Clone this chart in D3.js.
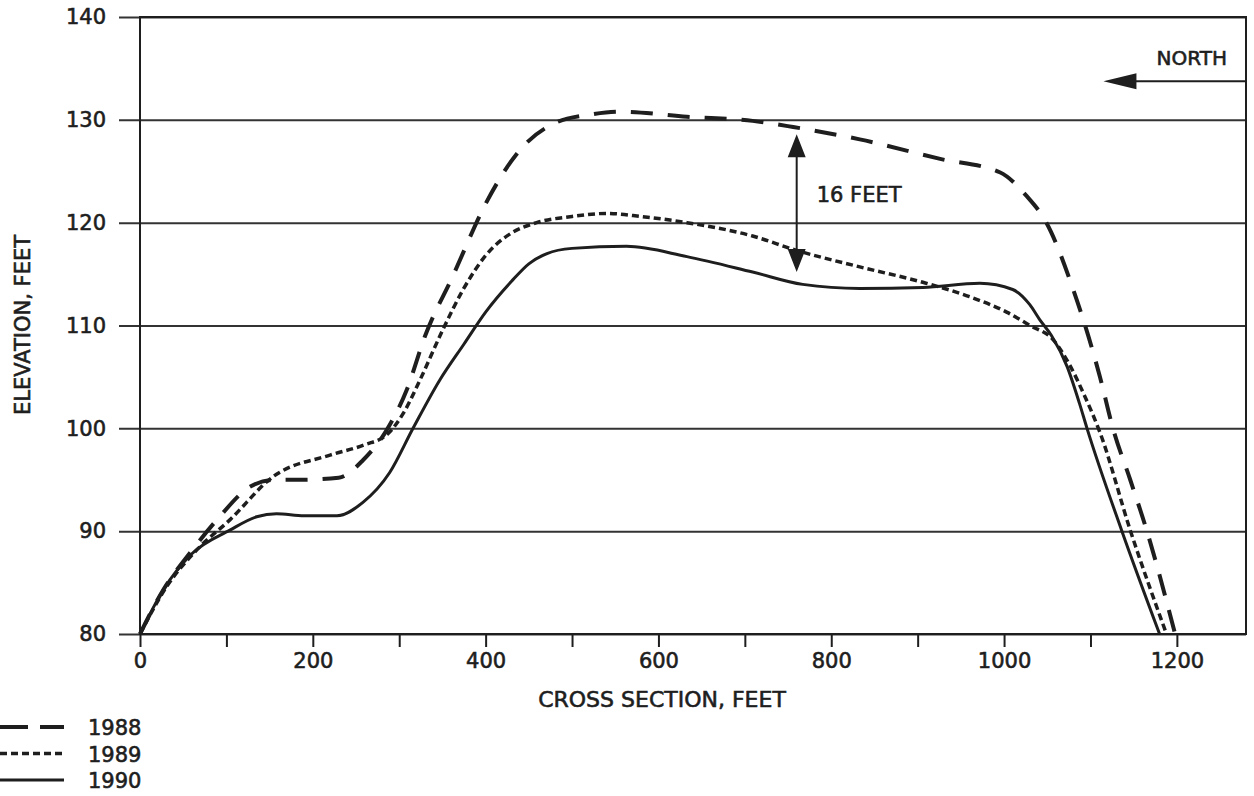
<!DOCTYPE html>
<html>
<head>
<meta charset="utf-8">
<script src="https://cdn.jsdelivr.net/npm/d3@7"></script>
<style>
    body { margin: 0; background: #fff; }
    svg text { font-family: "DejaVu Sans", sans-serif; fill: #1e1e1e; stroke: #1e1e1e; stroke-width: 0.6px; }
</style>
</head>
<body>
<div class="canvas"></div>
<script>
// cross section distance (feet) and elevation (feet) per survey year
const dist1988 = [0, 27, 58, 89, 127, 155, 185, 230, 258, 286, 309, 330, 362, 401, 440, 478, 520, 555, 633, 709, 756, 833, 926, 995, 1026, 1049, 1080, 1111, 1126, 1146, 1165, 1198];
const elev1988 = [80, 84.3, 87.9, 91.1, 94.3, 95.0, 95.0, 95.2, 96.9, 99.9, 103.8, 109, 114.8, 122, 127.1, 129.6, 130.5, 130.8, 130.3, 129.9, 129.3, 128.1, 126.2, 124.9, 122.6, 120, 113.5, 105, 100, 95, 90.1, 80];

const dist1989 = [0, 30, 66, 104, 154, 220, 260, 286, 305, 324, 350, 374, 400, 430, 459, 500, 540, 580, 633, 709, 760, 833, 906, 960, 1003, 1030, 1057, 1075, 1093, 1111, 1146, 1188];
const elev1989 = [80, 84.5, 88.2, 91.1, 95.3, 97.4, 98.4, 99.4, 101.5, 104.7, 109.5, 113.5, 116.8, 119, 120.0, 120.6, 120.9, 120.6, 120, 118.7, 117.3, 115.7, 114.2, 112.8, 111.3, 110, 108.6, 106.3, 103.2, 99.6, 90.1, 80];

const dist1990 = [0, 27, 60, 104, 135, 158, 190, 228, 258, 289, 316, 347, 375, 400, 430, 450, 471, 500, 563, 633, 709, 767, 833, 906, 972, 1010, 1030, 1041, 1055, 1073, 1087, 1096, 1136, 1180];
const elev1990 = [80, 84.3, 87.8, 90.1, 91.4, 91.7, 91.5, 91.5, 92.8, 95.7, 100, 104.7, 108.2, 111.3, 114.3, 116.0, 117.0, 117.5, 117.7, 116.7, 115.2, 114, 113.6, 113.7, 114.1, 113.5, 112, 110.6, 109.0, 106.0, 102.5, 100, 90.1, 80];

const years = ['1988', '1989', '1990'];
const xTicks = [0, 100, 200, 300, 400, 500, 600, 700, 800, 900, 1000, 1100, 1200];
const yTicks = [80, 90, 100, 110, 120, 130, 140];

// 16 feet marker and north arrow (data units)
const gapMarker = { x: 760, top: 128.6, bottom: 115.2, label: '16 FEET' };
const north = { label: 'NORTH', tipX: 1115, y: 133.75 };

const width = 1254, height = 796;
const padL = 140, padR = 1246, padT = 17, padB = 634;

const svg = d3.select('.canvas')
    .append('svg')
    .attr('width', width)
    .attr('height', height)
    ;

const xScale = d3.scaleLinear().domain([0, 1280]).range([padL, padR]);
const yScale = d3.scaleLinear().domain([80, 140]).range([padB, padT]);

const ink = '#1e1e1e';

// y axis with grid lines running across the plot
svg.append('g')
    .attr('transform', `translate(${padL - 21}, 0)`)
    .call(d3.axisLeft(yScale).tickValues(yTicks).tickSize(-(padR - padL + 21)).tickPadding(13))
    .call(g => g.select('.domain').remove())
    .call(g => g.selectAll('line').attr('stroke', '#333').attr('stroke-width', 2))
    .call(g => g.selectAll('text').attr('font-size', 21))
    ;

// x axis
svg.append('g')
    .attr('transform', `translate(0, ${padB})`)
    .call(d3.axisBottom(xScale).tickValues(xTicks).tickSize(13).tickPadding(6)
        .tickFormat(d => d % 200 === 0 ? d : ''))
    .call(g => g.select('.domain').remove())
    .call(g => g.selectAll('line').attr('stroke', ink).attr('stroke-width', 2))
    .call(g => g.selectAll('text').attr('font-size', 21))
    ;

// frame
svg.append('rect')
    .attr('x', padL)
    .attr('y', padT)
    .attr('width', padR - padL)
    .attr('height', padB - padT)
    .attr('fill', 'none')
    .attr('stroke', ink)
    .attr('stroke-width', 2)
    ;

// profiles
const styles = {
    '1988': { dash: '22,15', w: 4 },
    '1989': { dash: '7,4', w: 3.5 },
    '1990': { dash: null, w: 3 }
};
const series = [
    { year: '1988', pts: dist1988.map((d, i) => [d, elev1988[i]]) },
    { year: '1989', pts: dist1989.map((d, i) => [d, elev1989[i]]) },
    { year: '1990', pts: dist1990.map((d, i) => [d, elev1990[i]]) }
];

const line = d3.line()
    .x(d => xScale(d[0]))
    .y(d => yScale(d[1]))
    .curve(d3.curveMonotoneX);

svg.selectAll('.profile')
    .data(series)
    .enter()
    .append('path')
    .attr('class', 'profile')
    .attr('d', d => line(d.pts))
    .attr('fill', 'none')
    .attr('stroke', ink)
    .attr('stroke-width', d => styles[d.year].w)
    .attr('stroke-dasharray', d => styles[d.year].dash)
    ;

//16 feet double arrow
const gx = xScale(gapMarker.x), gTop = yScale(gapMarker.top), gBot = yScale(gapMarker.bottom);
svg.append('line')
    .attr('x1', gx).attr('x2', gx)
    .attr('y1', gTop + 10).attr('y2', gBot - 10)
    .attr('stroke', ink)
    .attr('stroke-width', 2)
    ;
svg.append('path')
    .attr('d', `M${gx},${gTop} L${gx - 9},${gTop + 23} L${gx + 9},${gTop + 23} Z
                M${gx},${gBot} L${gx - 9},${gBot - 23} L${gx + 9},${gBot - 23} Z`)
    .attr('fill', ink)
    ;
svg.append('text')
    .attr('x', gx + 20)
    .attr('y', 202)
    .attr('font-size', 21)
    .text(gapMarker.label)
    ;

//north arrow
const ny = yScale(north.y), nx = xScale(north.tipX);
svg.append('line')
    .attr('x1', nx + 20).attr('x2', padR)
    .attr('y1', ny).attr('y2', ny)
    .attr('stroke', ink)
    .attr('stroke-width', 2)
    ;
svg.append('path')
    .attr('d', `M${nx},${ny} L${nx + 33},${ny - 8} L${nx + 33},${ny + 8} Z`)
    .attr('fill', ink)
    ;
svg.append('text')
    .attr('x', 1227)
    .attr('y', 65)
    .attr('text-anchor', 'end')
    .attr('font-size', 20)
    .text(north.label)
    ;

// axis titles
svg.append('text')
    .attr('x', 662)
    .attr('y', 707)
    .attr('text-anchor', 'middle')
    .attr('font-size', 22)
    .text('CROSS SECTION, FEET')
    ;
svg.append('text')
    .attr('transform', 'translate(30, 325) rotate(-90)')
    .attr('text-anchor', 'middle')
    .attr('font-size', 21)
    .text('ELEVATION, FEET')
    ;

//legend
svg.append('g')
    .attr('id', 'legend')
    .call(g => {
        years.forEach((yr, i) => {
            const ly = 727 + i * 26.5;
            g.append('line')
                .attr('x1', 0).attr('x2', 64)
                .attr('y1', ly).attr('y2', ly)
                .attr('stroke', ink)
                .attr('stroke-width', styles[yr].w)
                .attr('stroke-dasharray', yr === '1988' ? '28,12' : styles[yr].dash);
            g.append('text')
                .attr('x', 88)
                .attr('y', ly + 8)
                .attr('font-size', 21)
                .text(yr);
        });
    })
    ;
</script>
</body>
</html>
